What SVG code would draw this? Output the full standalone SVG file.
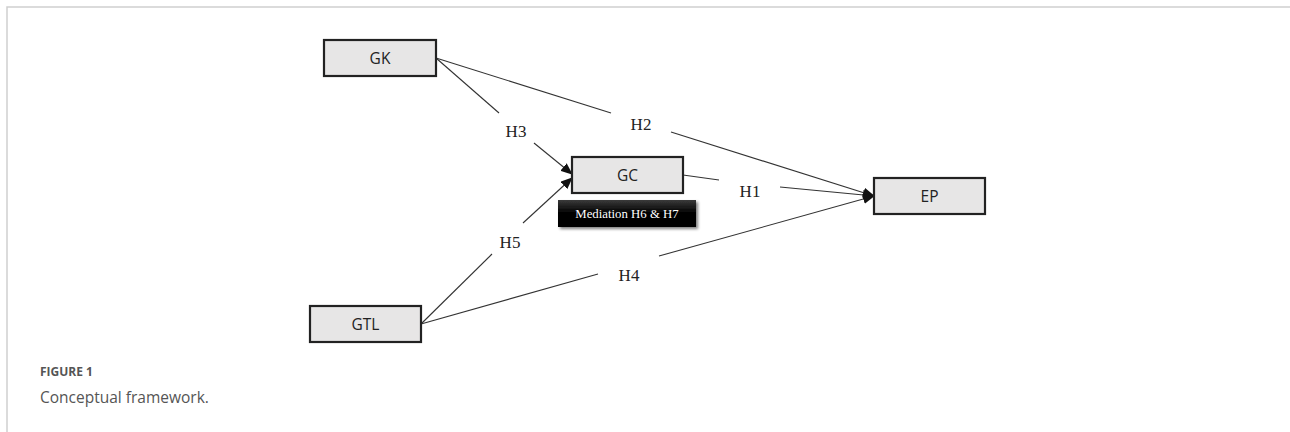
<svg xmlns="http://www.w3.org/2000/svg" width="1290" height="432" viewBox="0 0 1290 432">
<defs>
<style>
.box{fill:#e7e6e6;stroke:#222;stroke-width:2.2}
.lbl{font-family:"Open Sans","Liberation Sans",sans-serif;font-size:15.5px;fill:#222;text-anchor:middle}
.h{font-family:"Liberation Serif","Times New Roman",serif;font-size:17px;fill:#222;text-anchor:middle}
.ln{stroke:#333;stroke-width:1.1;fill:none}
</style>
<marker id="ah" markerWidth="12" markerHeight="10" refX="11" refY="5" orient="auto" markerUnits="userSpaceOnUse">
<path d="M0,0 L12,5 L0,10 z" fill="#111"/>
</marker>
<linearGradient id="blk" x1="0" y1="0" x2="0" y2="1">
<stop offset="0" stop-color="#3a3a3a"/>
<stop offset="0.5" stop-color="#000"/>
<stop offset="1" stop-color="#000"/>
</linearGradient>
<filter id="sh" x="-10%" y="-20%" width="130%" height="160%">
<feGaussianBlur in="SourceAlpha" stdDeviation="1.5"/>
<feOffset dx="2" dy="2" result="b"/>
<feComponentTransfer><feFuncA type="linear" slope="0.5"/></feComponentTransfer>
<feMerge><feMergeNode/><feMergeNode in="SourceGraphic"/></feMerge>
</filter>
</defs>
<rect width="1290" height="432" fill="#fff"/>
<path d="M7,432 V7 H1290" fill="none" stroke="#cfcfcf" stroke-width="1.5"/>

<g id="connectors">
<path class="ln" d="M436,58 L611,113"/>
<path class="ln" d="M671,132 L874,196" marker-end="url(#ah)"/>
<path class="ln" d="M436,58 L499,113"/>
<path class="ln" d="M534,143 L572,174" marker-end="url(#ah)"/>
<path class="ln" d="M683,175 L719,180"/>
<path class="ln" d="M780,187 L874,196" marker-end="url(#ah)"/>
<path class="ln" d="M421,324 L492,254"/>
<path class="ln" d="M523,223 L572,178" marker-end="url(#ah)"/>
<path class="ln" d="M421,324 L598,274"/>
<path class="ln" d="M659,256 L874,196" marker-end="url(#ah)"/>
<text class="h" x="516" y="137">H3</text>
<text class="h" x="641" y="130">H2</text>
<text class="h" x="750" y="197">H1</text>
<text class="h" x="510" y="248">H5</text>
<text class="h" x="629" y="281">H4</text>
</g>

<g id="GK"><rect class="box" x="324" y="40" width="112" height="36"/><text class="lbl" x="380" y="63.5">GK</text></g>
<g id="GC"><rect class="box" x="572" y="157" width="111" height="36"/><text class="lbl" x="627.5" y="180.5">GC</text></g>
<g id="EP"><rect class="box" x="874" y="178" width="111" height="36"/><text class="lbl" x="929.5" y="201.5">EP</text></g>
<g id="GTL"><rect class="box" x="310" y="306" width="111" height="36"/><text class="lbl" x="365.5" y="329.5">GTL</text></g>
<g id="mediation">
<rect x="558" y="200" width="138" height="27" fill="url(#blk)" filter="url(#sh)"/>
<text x="627" y="217.5" font-family="Liberation Serif,serif" font-size="12.8" fill="#fff" text-anchor="middle">Mediation H6 &amp; H7</text>
</g>

<text x="40" y="376" font-family="Open Sans,Liberation Sans,sans-serif" font-size="12" font-weight="bold" fill="#555">FIGURE 1</text>
<text x="40" y="403" font-family="Open Sans,Liberation Sans,sans-serif" font-size="15.5" fill="#555">Conceptual framework.</text>
</svg>
